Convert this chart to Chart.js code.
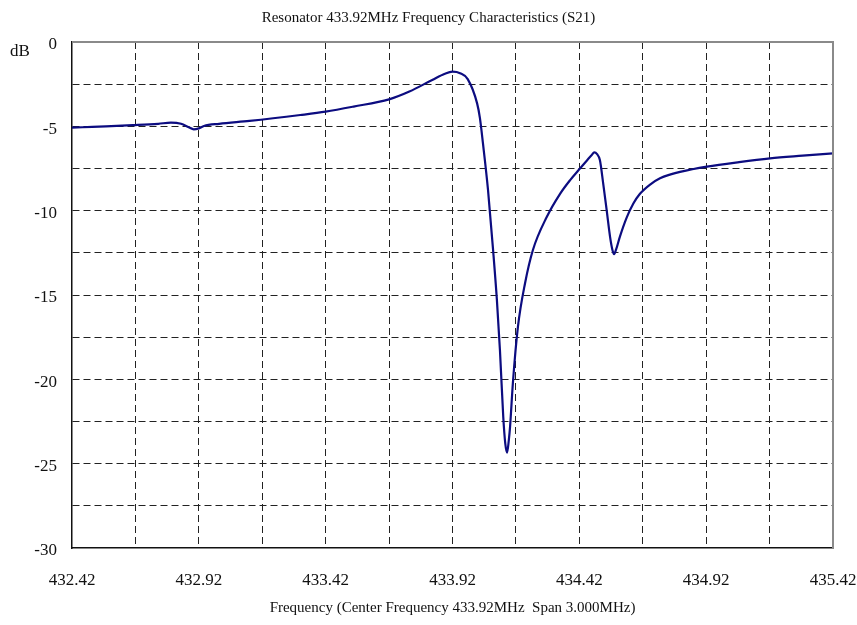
<!DOCTYPE html>
<html><head><meta charset="utf-8">
<script src="https://cdn.jsdelivr.net/npm/chart.js@4"></script>
<style>html,body{margin:0;padding:0;background:#fff}</style>
</head><body>
<canvas id="c" width="857" height="625"></canvas>
<script>
const freqMHz = [432.42, 432.50, 432.66, 432.76, 432.81, 432.85, 432.88, 432.90, 432.92, 432.94, 433.00, 433.12, 433.32, 433.42, 433.53, 433.67, 433.75, 433.84, 433.89, 433.92, 433.95, 433.98, 434.017, 434.028, 434.04, 434.06, 434.08, 434.095, 434.107, 434.12, 434.128, 434.135, 434.142, 434.147, 434.158, 434.178, 434.206, 434.237, 434.292, 434.344, 434.383, 434.423, 434.45, 434.468, 434.479, 434.49, 434.501, 434.514, 434.528, 434.541, 434.55, 434.557, 434.565, 434.58, 434.607, 434.633, 434.659, 434.699, 434.738, 434.78, 434.817, 434.923, 435.05, 435.172, 435.30, 435.42];
const s21dB = [-5.08, -5.03, -4.93, -4.85, -4.78, -4.85, -5.05, -5.18, -5.12, -4.98, -4.85, -4.68, -4.33, -4.13, -3.83, -3.40, -2.94, -2.25, -1.88, -1.76, -1.85, -2.20, -3.64, -4.5, -6.0, -8.77, -12.33, -15.29, -18.26, -22.2, -23.8, -24.35, -23.6, -22.8, -20.23, -16.88, -14.3, -12.33, -10.36, -9.0, -8.2, -7.49, -7.02, -6.72, -6.54, -6.65, -7.0, -8.38, -10.0, -11.54, -12.3, -12.58, -12.3, -11.54, -10.4, -9.58, -9.0, -8.45, -8.08, -7.85, -7.7, -7.39, -7.12, -6.9, -6.74, -6.6];
const xGridTicks = [432.42, 432.67, 432.92, 433.17, 433.42, 433.67, 433.92, 434.17, 434.42, 434.67, 434.92, 435.17, 435.42];
const xLabelTicks = [432.42, 432.92, 433.42, 433.92, 434.42, 434.92, 435.42];
const yGridTicks = [0, -2.5, -5, -7.5, -10, -12.5, -15, -17.5, -20, -22.5, -25, -27.5, -30];
const yLabelTicks = [0, -5, -10, -15, -20, -25, -30];
const chartTitle = 'Resonator 433.92MHz Frequency Characteristics (S21)';
const xTitle = 'Frequency (Center Frequency 433.92MHz  Span 3.000MHz)';
const yUnit = 'dB';

const FONT = "'Liberation Serif', 'Times New Roman', serif";
const pts = freqMHz.map((f, i) => ({x: f, y: s21dB[i]}));

const edgeColor = (min, max) => (ctx) => {
  const v = ctx.tick ? ctx.tick.value : null;
  if (v === null) return '#222';
  return (Math.abs(v - min) < 1e-6 || Math.abs(v - max) < 1e-6) ? 'rgba(0,0,0,0)' : '#222';
};

const framePlugin = {
  id: 'frame',
  afterDraw(chart) {
    const {ctx, chartArea: a} = chart;
    ctx.save();
    ctx.strokeStyle = '#8a8a8a';
    ctx.lineWidth = 2;
    ctx.beginPath();
    ctx.moveTo(a.left, a.top);
    ctx.lineTo(a.right, a.top);
    ctx.lineTo(a.right, a.bottom);
    ctx.stroke();
    ctx.fillStyle = '#111';
    ctx.font = "17px " + FONT;
    ctx.textAlign = 'left';
    ctx.textBaseline = 'middle';
    ctx.fillText(yUnit, 10, 52);
    ctx.restore();
  }
};

new Chart(document.getElementById('c'), {
  type: 'line',
  data: {
    datasets: [{
      data: pts,
      borderColor: '#0c0c80',
      borderWidth: 2.2,
      pointRadius: 0,
      fill: false,
      cubicInterpolationMode: 'monotone'
    }]
  },
  options: {
    responsive: false,
    animation: false,
    devicePixelRatio: 1,
    layout: {padding: {left: 0, right: 0, top: 0, bottom: 0}},
    plugins: {
      legend: {display: false},
      tooltip: {enabled: false},
      title: {
        display: true,
        text: chartTitle,
        color: '#111',
        font: {family: FONT, size: 15, weight: 'normal'},
        padding: {top: 9, bottom: 15}
      }
    },
    scales: {
      x: {
        type: 'linear',
        min: 432.42,
        max: 435.42,
        afterBuildTicks: (s) => { s.ticks = xGridTicks.map(v => ({value: v})); },
        afterFit: (s) => { s.height = 77; s.paddingLeft = 0; s.paddingRight = 24; },
        ticks: {
          autoSkip: false,
          maxRotation: 0,
          padding: 22,
          color: '#111',
          font: {family: FONT, size: 17},
          callback: (v) => xLabelTicks.some(l => Math.abs(l - v) < 1e-6) ? Number(v).toFixed(2) : ''
        },
        grid: {color: edgeColor(432.42, 435.42), lineWidth: 1, drawTicks: false},
        border: {display: true, color: '#111', width: 1.5, dash: [7, 4]},
        title: {display: true, text: xTitle, color: '#111', font: {family: FONT, size: 15}, padding: {top: 0, bottom: 8}}
      },
      y: {
        type: 'linear',
        min: -30,
        max: 0,
        afterBuildTicks: (s) => { s.ticks = yGridTicks.map(v => ({value: v})); },
        afterFit: (s) => { s.width = 72; s.paddingTop = 0; s.paddingBottom = 0; },
        ticks: {
          autoSkip: false,
          padding: 15,
          labelOffset: 3,
          color: '#111',
          font: {family: FONT, size: 17},
          callback: (v) => yLabelTicks.some(l => Math.abs(l - v) < 1e-6) ? String(Math.round(v)) : ''
        },
        grid: {color: edgeColor(-30, 0), lineWidth: 1, drawTicks: false},
        border: {display: true, color: '#111', width: 1.5, dash: [7, 4]}
      }
    }
  },
  plugins: [framePlugin]
});
</script>
</body></html>
